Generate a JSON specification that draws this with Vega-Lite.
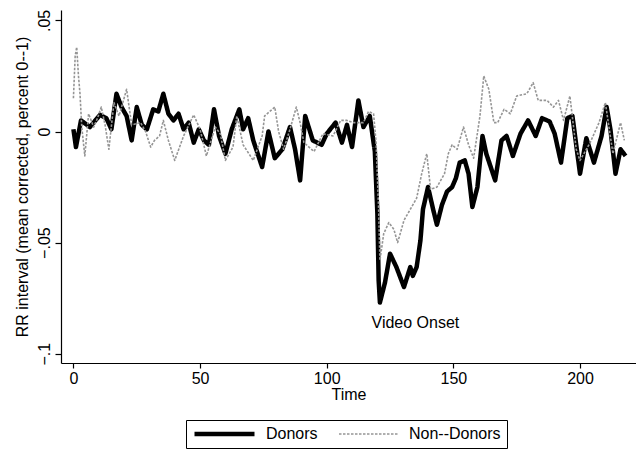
{
  "$schema": "https://vega.github.io/schema/vega-lite/v6.json",
  "width": 575,
  "height": 353,
  "autosize": {"type": "none"},
  "padding": {"left": 61, "top": 10, "right": 0, "bottom": 86},
  "background": "white",
  "config": {
    "font": "Liberation Sans",
    "view": {"stroke": null},
    "axis": {
      "grid": false,
      "domainColor": "black",
      "tickColor": "black",
      "labelColor": "black",
      "titleColor": "black",
      "labelFont": "Liberation Sans",
      "titleFont": "Liberation Sans",
      "labelFontSize": 16,
      "titleFontSize": 16,
      "titleFontWeight": "normal",
      "domainWidth": 1.2,
      "tickWidth": 1.2
    }
  },
  "datasets": {
    "series": [
      {"time": 0, "rr": 0.001, "group": "Donors"},
      {"time": 1, "rr": -0.007, "group": "Donors"},
      {"time": 3, "rr": 0.005, "group": "Donors"},
      {"time": 6.5, "rr": 0.002, "group": "Donors"},
      {"time": 10.5, "rr": 0.0075, "group": "Donors"},
      {"time": 13, "rr": 0.006, "group": "Donors"},
      {"time": 15, "rr": 0.001, "group": "Donors"},
      {"time": 17, "rr": 0.017, "group": "Donors"},
      {"time": 19, "rr": 0.011, "group": "Donors"},
      {"time": 21, "rr": 0.007, "group": "Donors"},
      {"time": 23, "rr": -0.004, "group": "Donors"},
      {"time": 25, "rr": 0.011, "group": "Donors"},
      {"time": 27, "rr": 0.003, "group": "Donors"},
      {"time": 29, "rr": 0.001, "group": "Donors"},
      {"time": 31.5, "rr": 0.010, "group": "Donors"},
      {"time": 33.5, "rr": 0.009, "group": "Donors"},
      {"time": 35.5, "rr": 0.017, "group": "Donors"},
      {"time": 37.5, "rr": 0.008, "group": "Donors"},
      {"time": 39.5, "rr": 0.005, "group": "Donors"},
      {"time": 41.5, "rr": 0.008, "group": "Donors"},
      {"time": 43.5, "rr": 0.001, "group": "Donors"},
      {"time": 45.5, "rr": 0.004, "group": "Donors"},
      {"time": 47.5, "rr": -0.005, "group": "Donors"},
      {"time": 49.5, "rr": 0.001, "group": "Donors"},
      {"time": 51.5, "rr": -0.004, "group": "Donors"},
      {"time": 53.5, "rr": -0.006, "group": "Donors"},
      {"time": 55.5, "rr": 0.010, "group": "Donors"},
      {"time": 57.5, "rr": -0.002, "group": "Donors"},
      {"time": 60, "rr": -0.010, "group": "Donors"},
      {"time": 62.5, "rr": 0.001, "group": "Donors"},
      {"time": 65.5, "rr": 0.010, "group": "Donors"},
      {"time": 67, "rr": 0.001, "group": "Donors"},
      {"time": 69, "rr": 0.006, "group": "Donors"},
      {"time": 71, "rr": -0.004, "group": "Donors"},
      {"time": 74.5, "rr": -0.016, "group": "Donors"},
      {"time": 77, "rr": 0.000, "group": "Donors"},
      {"time": 79.5, "rr": -0.012, "group": "Donors"},
      {"time": 82.5, "rr": -0.008, "group": "Donors"},
      {"time": 85.5, "rr": 0.002, "group": "Donors"},
      {"time": 87.5, "rr": -0.008, "group": "Donors"},
      {"time": 89.5, "rr": -0.022, "group": "Donors"},
      {"time": 91.5, "rr": 0.007, "group": "Donors"},
      {"time": 94.5, "rr": -0.004, "group": "Donors"},
      {"time": 98, "rr": -0.006, "group": "Donors"},
      {"time": 100, "rr": -0.001, "group": "Donors"},
      {"time": 103.5, "rr": 0.004, "group": "Donors"},
      {"time": 106, "rr": -0.005, "group": "Donors"},
      {"time": 108, "rr": 0.003, "group": "Donors"},
      {"time": 110, "rr": -0.007, "group": "Donors"},
      {"time": 112.5, "rr": 0.014, "group": "Donors"},
      {"time": 114.5, "rr": 0.002, "group": "Donors"},
      {"time": 117, "rr": 0.007, "group": "Donors"},
      {"time": 119, "rr": -0.009, "group": "Donors"},
      {"time": 120, "rr": -0.037, "group": "Donors"},
      {"time": 120.5, "rr": -0.067, "group": "Donors"},
      {"time": 121, "rr": -0.077, "group": "Donors"},
      {"time": 123, "rr": -0.068, "group": "Donors"},
      {"time": 125, "rr": -0.055, "group": "Donors"},
      {"time": 127.5, "rr": -0.061, "group": "Donors"},
      {"time": 130.5, "rr": -0.070, "group": "Donors"},
      {"time": 133, "rr": -0.061, "group": "Donors"},
      {"time": 134, "rr": -0.065, "group": "Donors"},
      {"time": 135.5, "rr": -0.061, "group": "Donors"},
      {"time": 137, "rr": -0.049, "group": "Donors"},
      {"time": 138, "rr": -0.035, "group": "Donors"},
      {"time": 140, "rr": -0.025, "group": "Donors"},
      {"time": 142, "rr": -0.035, "group": "Donors"},
      {"time": 143.5, "rr": -0.042, "group": "Donors"},
      {"time": 145.5, "rr": -0.033, "group": "Donors"},
      {"time": 147.5, "rr": -0.027, "group": "Donors"},
      {"time": 149.5, "rr": -0.025, "group": "Donors"},
      {"time": 151, "rr": -0.021, "group": "Donors"},
      {"time": 152.5, "rr": -0.014, "group": "Donors"},
      {"time": 154.5, "rr": -0.013, "group": "Donors"},
      {"time": 156, "rr": -0.019, "group": "Donors"},
      {"time": 157.5, "rr": -0.034, "group": "Donors"},
      {"time": 159.5, "rr": -0.025, "group": "Donors"},
      {"time": 161.5, "rr": -0.002, "group": "Donors"},
      {"time": 163, "rr": -0.010, "group": "Donors"},
      {"time": 166.5, "rr": -0.022, "group": "Donors"},
      {"time": 169, "rr": -0.004, "group": "Donors"},
      {"time": 171, "rr": -0.002, "group": "Donors"},
      {"time": 173.5, "rr": -0.011, "group": "Donors"},
      {"time": 176.5, "rr": -0.001, "group": "Donors"},
      {"time": 179.5, "rr": 0.005, "group": "Donors"},
      {"time": 182.5, "rr": -0.002, "group": "Donors"},
      {"time": 185, "rr": 0.006, "group": "Donors"},
      {"time": 188, "rr": 0.0045, "group": "Donors"},
      {"time": 190, "rr": -0.001, "group": "Donors"},
      {"time": 192.5, "rr": -0.014, "group": "Donors"},
      {"time": 195, "rr": 0.006, "group": "Donors"},
      {"time": 197, "rr": 0.007, "group": "Donors"},
      {"time": 200, "rr": -0.019, "group": "Donors"},
      {"time": 202.5, "rr": -0.003, "group": "Donors"},
      {"time": 205.5, "rr": -0.014, "group": "Donors"},
      {"time": 208.5, "rr": -0.002, "group": "Donors"},
      {"time": 210.5, "rr": 0.011, "group": "Donors"},
      {"time": 212, "rr": 0.001, "group": "Donors"},
      {"time": 214, "rr": -0.019, "group": "Donors"},
      {"time": 216, "rr": -0.008, "group": "Donors"},
      {"time": 218, "rr": -0.011, "group": "Donors"},

      {"time": 0, "rr": 0.015, "group": "Non--Donors"},
      {"time": 0.7, "rr": 0.034, "group": "Non--Donors"},
      {"time": 1.3, "rr": 0.038, "group": "Non--Donors"},
      {"time": 2, "rr": 0.025, "group": "Non--Donors"},
      {"time": 2.6, "rr": 0.017, "group": "Non--Donors"},
      {"time": 3.3, "rr": 0.002, "group": "Non--Donors"},
      {"time": 4.5, "rr": -0.011, "group": "Non--Donors"},
      {"time": 6, "rr": 0.008, "group": "Non--Donors"},
      {"time": 8, "rr": 0.002, "group": "Non--Donors"},
      {"time": 9.5, "rr": 0.006, "group": "Non--Donors"},
      {"time": 11, "rr": 0.011, "group": "Non--Donors"},
      {"time": 12.5, "rr": 0.003, "group": "Non--Donors"},
      {"time": 14, "rr": -0.008, "group": "Non--Donors"},
      {"time": 16, "rr": 0.013, "group": "Non--Donors"},
      {"time": 18, "rr": 0.007, "group": "Non--Donors"},
      {"time": 21, "rr": 0.019, "group": "Non--Donors"},
      {"time": 23, "rr": 0.003, "group": "Non--Donors"},
      {"time": 26.5, "rr": 0.004, "group": "Non--Donors"},
      {"time": 28.5, "rr": 0.0, "group": "Non--Donors"},
      {"time": 30.5, "rr": -0.007, "group": "Non--Donors"},
      {"time": 32, "rr": -0.004, "group": "Non--Donors"},
      {"time": 34, "rr": -0.002, "group": "Non--Donors"},
      {"time": 35.5, "rr": 0.005, "group": "Non--Donors"},
      {"time": 37.5, "rr": -0.004, "group": "Non--Donors"},
      {"time": 40, "rr": -0.013, "group": "Non--Donors"},
      {"time": 43.5, "rr": -0.002, "group": "Non--Donors"},
      {"time": 47.5, "rr": 0.0075, "group": "Non--Donors"},
      {"time": 50, "rr": 0.001, "group": "Non--Donors"},
      {"time": 52.5, "rr": -0.011, "group": "Non--Donors"},
      {"time": 56, "rr": 0.002, "group": "Non--Donors"},
      {"time": 58, "rr": -0.001, "group": "Non--Donors"},
      {"time": 60, "rr": -0.013, "group": "Non--Donors"},
      {"time": 63, "rr": -0.007, "group": "Non--Donors"},
      {"time": 64.5, "rr": 0.007, "group": "Non--Donors"},
      {"time": 67, "rr": -0.006, "group": "Non--Donors"},
      {"time": 71, "rr": -0.013, "group": "Non--Donors"},
      {"time": 74.5, "rr": -0.002, "group": "Non--Donors"},
      {"time": 75.5, "rr": 0.007, "group": "Non--Donors"},
      {"time": 79.5, "rr": 0.011, "group": "Non--Donors"},
      {"time": 81, "rr": 0.000, "group": "Non--Donors"},
      {"time": 83, "rr": -0.008, "group": "Non--Donors"},
      {"time": 85.5, "rr": 0.001, "group": "Non--Donors"},
      {"time": 88, "rr": 0.011, "group": "Non--Donors"},
      {"time": 89.5, "rr": 0.004, "group": "Non--Donors"},
      {"time": 91, "rr": -0.005, "group": "Non--Donors"},
      {"time": 95, "rr": -0.009, "group": "Non--Donors"},
      {"time": 98.5, "rr": -0.001, "group": "Non--Donors"},
      {"time": 102.5, "rr": -0.002, "group": "Non--Donors"},
      {"time": 105.5, "rr": 0.005, "group": "Non--Donors"},
      {"time": 108, "rr": 0.005, "group": "Non--Donors"},
      {"time": 110.5, "rr": 0.004, "group": "Non--Donors"},
      {"time": 114.5, "rr": 0.004, "group": "Non--Donors"},
      {"time": 116.5, "rr": 0.009, "group": "Non--Donors"},
      {"time": 118.5, "rr": 0.008, "group": "Non--Donors"},
      {"time": 119.5, "rr": -0.005, "group": "Non--Donors"},
      {"time": 120.5, "rr": -0.035, "group": "Non--Donors"},
      {"time": 121, "rr": -0.058, "group": "Non--Donors"},
      {"time": 122.5, "rr": -0.046, "group": "Non--Donors"},
      {"time": 124.5, "rr": -0.041, "group": "Non--Donors"},
      {"time": 126.5, "rr": -0.044, "group": "Non--Donors"},
      {"time": 128, "rr": -0.050, "group": "Non--Donors"},
      {"time": 130.5, "rr": -0.040, "group": "Non--Donors"},
      {"time": 133, "rr": -0.035, "group": "Non--Donors"},
      {"time": 135.5, "rr": -0.030, "group": "Non--Donors"},
      {"time": 137.5, "rr": -0.019, "group": "Non--Donors"},
      {"time": 139.5, "rr": -0.010, "group": "Non--Donors"},
      {"time": 141, "rr": -0.026, "group": "Non--Donors"},
      {"time": 143.5, "rr": -0.025, "group": "Non--Donors"},
      {"time": 146.5, "rr": -0.019, "group": "Non--Donors"},
      {"time": 148, "rr": -0.010, "group": "Non--Donors"},
      {"time": 149.5, "rr": -0.006, "group": "Non--Donors"},
      {"time": 151.5, "rr": -0.008, "group": "Non--Donors"},
      {"time": 153, "rr": -0.002, "group": "Non--Donors"},
      {"time": 154, "rr": 0.002, "group": "Non--Donors"},
      {"time": 156, "rr": -0.006, "group": "Non--Donors"},
      {"time": 158, "rr": -0.012, "group": "Non--Donors"},
      {"time": 160.5, "rr": 0.007, "group": "Non--Donors"},
      {"time": 162, "rr": 0.025, "group": "Non--Donors"},
      {"time": 164, "rr": 0.019, "group": "Non--Donors"},
      {"time": 166, "rr": 0.004, "group": "Non--Donors"},
      {"time": 167.5, "rr": 0.004, "group": "Non--Donors"},
      {"time": 170, "rr": 0.010, "group": "Non--Donors"},
      {"time": 172.5, "rr": 0.008, "group": "Non--Donors"},
      {"time": 175, "rr": 0.016, "group": "Non--Donors"},
      {"time": 179, "rr": 0.017, "group": "Non--Donors"},
      {"time": 181.5, "rr": 0.022, "group": "Non--Donors"},
      {"time": 183.5, "rr": 0.014, "group": "Non--Donors"},
      {"time": 187, "rr": 0.014, "group": "Non--Donors"},
      {"time": 189.5, "rr": 0.011, "group": "Non--Donors"},
      {"time": 191.5, "rr": 0.014, "group": "Non--Donors"},
      {"time": 193.5, "rr": 0.005, "group": "Non--Donors"},
      {"time": 196, "rr": 0.016, "group": "Non--Donors"},
      {"time": 198.5, "rr": -0.008, "group": "Non--Donors"},
      {"time": 200, "rr": -0.013, "group": "Non--Donors"},
      {"time": 204, "rr": -0.005, "group": "Non--Donors"},
      {"time": 207.5, "rr": 0.004, "group": "Non--Donors"},
      {"time": 210, "rr": 0.013, "group": "Non--Donors"},
      {"time": 213, "rr": -0.010, "group": "Non--Donors"},
      {"time": 216, "rr": 0.004, "group": "Non--Donors"},
      {"time": 217.5, "rr": -0.004, "group": "Non--Donors"}
    ],
    "note": [
      {"time": 135, "rr": -0.0862, "label": "Video Onset"}
    ]
  },
  "layer": [
    {
      "data": {"name": "series"},
      "mark": {"type": "line", "strokeJoin": "round"},
      "encoding": {
        "x": {
          "field": "time", "type": "quantitative",
          "scale": {"domain": [-4.9, 222.1], "nice": false, "zero": false},
          "axis": {"values": [0, 50, 100, 150, 200], "title": "Time", "tickSize": 5, "labelPadding": 2, "titlePadding": 0}
        },
        "y": {
          "field": "rr", "type": "quantitative",
          "scale": {"domain": [-0.1042, 0.0547], "nice": false, "zero": false},
          "axis": {
            "values": [-0.1, -0.05, 0, 0.05],
            "title": "RR interval (mean corrected, percent 0--1)",
            "labelAngle": -90, "labelAlign": "center", "labelBaseline": "bottom",
            "labelExpr": "datum.value == 0 ? '0' : replace(format(datum.value, '.2~f'), '0.', '.')",
            "tickSize": 6, "labelPadding": 3, "titlePadding": 6
          }
        },
        "color": {
          "field": "group", "type": "nominal",
          "scale": {"domain": ["Donors", "Non--Donors"], "range": ["#000000", "#959595"]},
          "legend": {"orient": "none", "legendX": 125, "legendY": 410, "direction": "horizontal", "title": null, "strokeColor": "black", "padding": 6, "symbolType": "stroke", "symbolSize": 3600, "clipHeight": 16, "labelFontSize": 16, "labelFont": "Liberation Sans", "labelColor": "black", "labelOffset": 9, "columnPadding": 20}
        },
        "strokeDash": {
          "field": "group", "type": "nominal",
          "scale": {"domain": ["Donors", "Non--Donors"], "range": [[1, 0], [2.5, 1.5]]},
          "legend": {"orient": "none", "legendX": 125, "legendY": 410, "direction": "horizontal", "title": null, "strokeColor": "black", "padding": 6, "symbolType": "stroke", "symbolSize": 3600, "clipHeight": 16, "labelFontSize": 16, "labelFont": "Liberation Sans", "labelColor": "black", "labelOffset": 9, "columnPadding": 20}
        },
        "strokeWidth": {
          "field": "group", "type": "ordinal",
          "scale": {"domain": ["Donors", "Non--Donors"], "range": [4.5, 1.6]},
          "legend": {"orient": "none", "legendX": 125, "legendY": 410, "direction": "horizontal", "title": null, "strokeColor": "black", "padding": 6, "symbolType": "stroke", "symbolSize": 3600, "clipHeight": 16, "labelFontSize": 16, "labelFont": "Liberation Sans", "labelColor": "black", "labelOffset": 9, "columnPadding": 20}
        }
      }
    },
    {
      "data": {"name": "note"},
      "mark": {"type": "text", "font": "Liberation Sans", "fontSize": 16, "align": "center", "baseline": "middle", "color": "black"},
      "encoding": {
        "x": {"field": "time", "type": "quantitative"},
        "y": {"field": "rr", "type": "quantitative"},
        "text": {"field": "label"}
      }
    }
  ]
}
